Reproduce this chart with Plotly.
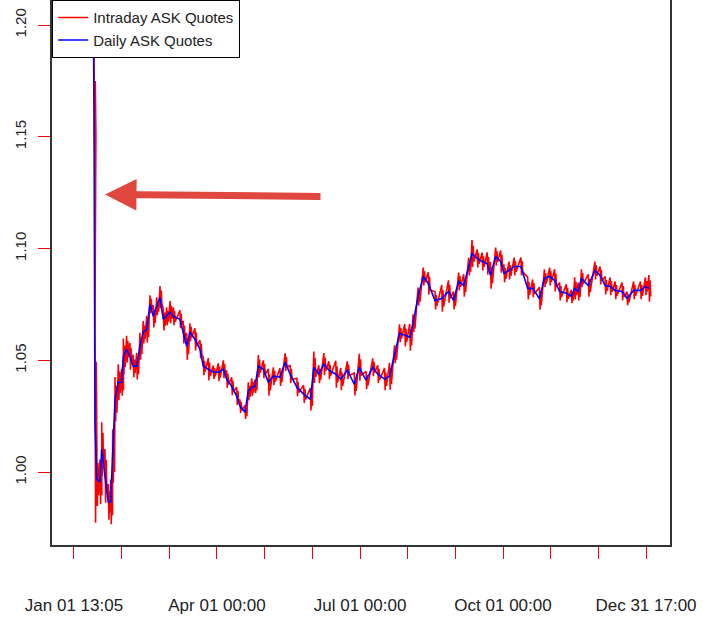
import plotly.graph_objects as go

# day offsets, daily ASK price
days = [12.1, 12.8, 13.4, 14.5, 16.6, 17.7, 19.8, 21.9, 23.4, 24.7,
        26.2, 28.3, 30.4, 31.5, 33.6, 35.7, 37.8, 40.0, 42.1, 44.2,
        46.4, 48.5, 50.6, 52.8, 54.9, 57.0, 59.1, 61.3, 63.4, 67.6,
        69.7, 71.9, 74.0, 77.2, 80.4, 82.5, 85.7, 88.9, 92.1, 95.3,
        97.4, 100.6, 103.8, 105.9, 109.1, 111.2, 113.4, 115.5, 117.6, 120.8,
        124.0, 127.2, 131.4,
        134.7, 137.9, 142.2, 146.5, 150.8, 153.0, 156.2, 159.4, 162.6, 167.0,
        170.2, 174.4, 178.8, 182.0, 186.3, 190.6, 193.8, 198.1, 201.3, 204.5,
        207.7, 211.0, 214.2, 216.3, 219.5, 222.8, 226.0, 230.3, 234.6, 238.9,
        242.1, 245.4, 248.6, 251.8, 253.9, 257.2, 260.4, 263.6, 265.7, 269.0,
        272.2, 274.3, 277.5, 280.8, 285.1, 289.4, 292.6, 296.9, 300.1, 303.4,
        306.6, 309.8, 314.1, 317.3, 319.4, 321.6, 323.7, 328.1, 332.3, 335.6,
        338.8, 342.0, 345.2, 349.6, 352.8, 357.0, 361.4, 364.5, 366.7]

daily_ask = [1.2300, 1.1630, 1.0224, 0.9969, 0.9956, 1.0103, 0.9983, 0.9867, 0.9867, 1.0072,
             1.0326, 1.0402, 1.0402, 1.0518, 1.0550, 1.0518, 1.0474, 1.0474, 1.0563, 1.0626,
             1.0639, 1.0751, 1.0697, 1.0742, 1.0782, 1.0684, 1.0697, 1.0715, 1.0697, 1.0684,
             1.0626, 1.0563, 1.0626, 1.0594, 1.0550, 1.0474, 1.0460, 1.0447, 1.0447, 1.0460,
             1.0416, 1.0384, 1.0340, 1.0295, 1.0268, 1.0362, 1.0380, 1.0384, 1.0474, 1.0460,
             1.0402, 1.0429, 1.0425,
             1.0492, 1.0438, 1.0380, 1.0349, 1.0326, 1.0469, 1.0438, 1.0483, 1.0456, 1.0438,
             1.0416, 1.0456, 1.0393, 1.0469, 1.0411, 1.0469, 1.0438, 1.0416, 1.0429, 1.0527,
             1.0621, 1.0612, 1.0603, 1.0666, 1.0786, 1.0875, 1.0844, 1.0768, 1.0777, 1.0808,
             1.0768, 1.0853, 1.0835, 1.0920, 1.0978, 1.0956, 1.0942, 1.0933, 1.0880, 1.0965,
             1.0942, 1.0889, 1.0902, 1.0920, 1.0920, 1.0822, 1.0822, 1.0777, 1.0867, 1.0875,
             1.0858, 1.0808, 1.0800, 1.0786, 1.0822, 1.0808, 1.0867, 1.0835, 1.0902, 1.0880,
             1.0835, 1.0831, 1.0813, 1.0808, 1.0777, 1.0813, 1.0813, 1.0831, 1.0822]

# half of the intraday high-low range around each daily quote
intraday_spread = [0, 0.02, 0.045, 0.012, 0.01, 0.012, 0.012, 0.008, 0.01, 0.012,
                   0.01, 0.008, 0.006, 0.008, 0.006, 0.006, 0.005, 0.006, 0.006, 0.005,
                   0.006, 0.004, 0.005, 0.004, 0.005, 0.005, 0.004, 0.005, 0.004, 0.004,
                   0.005, 0.006, 0.004, 0.005, 0.004, 0.004, 0.005, 0.003, 0.004, 0.004,
                   0.004, 0.004, 0.004, 0.003, 0.003, 0.004, 0.004, 0.003, 0.005, 0.004,
                   0.006, 0.004, 0.004,
                   0.004, 0.004, 0.004, 0.004, 0.005, 0.007, 0.004, 0.005, 0.004, 0.006,
                   0.005, 0.004, 0.005, 0.006, 0.004, 0.004, 0.004, 0.005, 0.006, 0.004,
                   0.004, 0.005, 0.006, 0.004, 0.004, 0.004, 0.005, 0.004, 0.006, 0.005,
                   0.004, 0.004, 0.005, 0.004, 0.006, 0.004, 0.004, 0.005, 0.006, 0.004,
                   0.005, 0.004, 0.004, 0.004, 0.004, 0.005, 0.004, 0.005, 0.004, 0.004,
                   0.005, 0.004, 0.004, 0.003, 0.005, 0.004, 0.004, 0.005, 0.004, 0.004,
                   0.004, 0.004, 0.004, 0.004, 0.003, 0.004, 0.004, 0.004, 0.006]

tick_days = [0, 30.4, 60.8, 91.2, 121.6, 152.0, 182.5, 212.9, 243.3, 273.7, 304.1, 334.5, 364.9]
tick_text = ["Jan 01 13:05", "", "", "Apr 01 00:00", "", "", "Jul 01 00:00",
             "", "", "Oct 01 00:00", "", "", "Dec 31 17:00"]

# intraday: up-down strokes between highs and lows around each daily quote
ix, iy = [], []
for d, p, s in zip(days, daily_ask, intraday_spread):
    ix += [d, d + 0.4, d + 0.8, d + 1.2]
    iy += [p + s, p - s, p + 0.6 * s, p - 0.6 * s]

fig = go.Figure()
fig.add_trace(go.Scatter(x=ix, y=iy, mode="lines", name="Intraday ASK Quotes",
                         line=dict(color="red", width=1.6)))
fig.add_trace(go.Scatter(x=days, y=daily_ask, mode="lines", name="Daily ASK Quotes",
                         line=dict(color="blue", width=1.6)))

fig.add_annotation(x=19.8, y=1.1242, xref="x", yref="y", ax=217, ay=2,
                   showarrow=True, arrowhead=2, arrowsize=0.9, arrowwidth=7,
                   arrowcolor="#e0483f", text="")

axis_common = dict(showline=True, mirror=True, linecolor="#333", linewidth=1.5,
                   showgrid=False, zeroline=False, ticks="outside", ticklen=12,
                   tickcolor="red", tickwidth=1.2, automargin=False,
                   tickfont=dict(family="Liberation Sans", size=15, color="#222"))

fig.update_xaxes(range=[-14.0, 380.2], tickvals=tick_days, ticktext=tick_text,
                 ticklabelstandoff=32, **axis_common)
fig.update_xaxes(tickfont_size=17)
fig.update_yaxes(range=[0.9674, 1.2112], tickvals=[1.00, 1.05, 1.10, 1.15, 1.20],
                 ticktext=["1.00", "1.05", "1.10", "1.15", "1.20"], tickangle=-90,
                 ticklabelstandoff=6, **axis_common)

fig.update_layout(
    width=703, height=640,
    margin=dict(l=52, r=33, t=0, b=95),
    plot_bgcolor="white", paper_bgcolor="white",
    showlegend=True,
    legend=dict(x=0, y=1, xanchor="left", yanchor="top", bgcolor="white",
                bordercolor="black", borderwidth=1.2,
                font=dict(family="Liberation Sans", size=15, color="#222"),
                tracegroupgap=0),
)

fig.write_html("out.html", config={"displayModeBar": False},
               post_script="document.body.style.margin='0';")
